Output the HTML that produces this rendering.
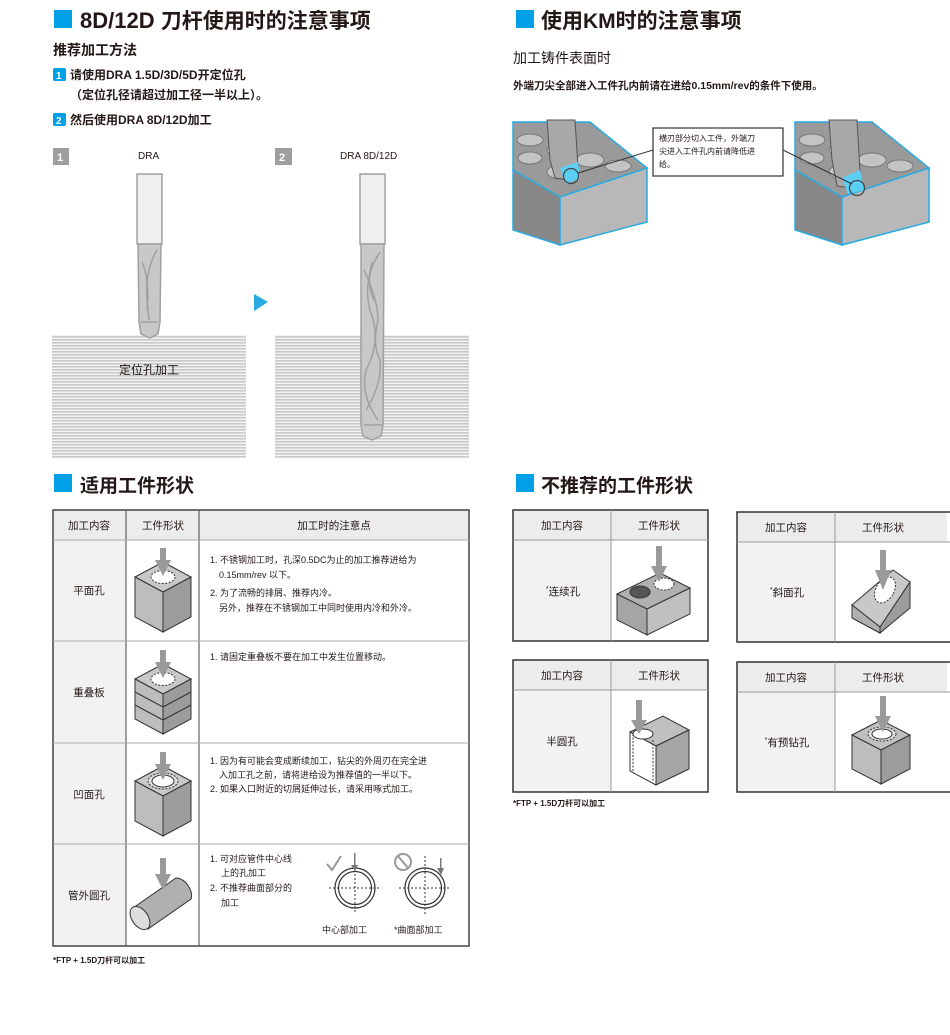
<!DOCTYPE html>
<html><head><meta charset="utf-8"><style>
html,body{margin:0;padding:0;background:#fff}
svg{display:block}
text{font-family:"Liberation Sans","Noto Sans CJK SC",sans-serif;fill:#231815}
.b{font-weight:bold}
</style></head><body>
<svg width="950" height="1035" viewBox="0 0 950 1035" xmlns="http://www.w3.org/2000/svg">
<defs>
<pattern id="hp" width="4" height="3" patternUnits="userSpaceOnUse"><rect width="4" height="3" fill="#f2f2f2"/><rect width="4" height="1.6" fill="#c9c9c9"/></pattern>
</defs>

<!-- Title 1 -->
<rect x="54" y="10" width="18" height="18" fill="#00a0e9"/>
<text x="80" y="28" font-size="22" class="b">8D/12D <tspan font-size="21">刀杆使用时的注意事项</tspan></text>
<text x="53" y="55" font-size="14" class="b">推荐加工方法</text>
<rect x="53" y="68" width="13" height="13" rx="2" fill="#00a0e9"/><text x="56" y="79" font-size="10" style="fill:#fff" class="b">1</text>
<text x="70" y="79" font-size="12" class="b">请使用DRA 1.5D/3D/5D开定位孔</text>
<text x="70" y="99" font-size="12" class="b">（定位孔径请超过加工径一半以上）。</text>
<rect x="53" y="113" width="13" height="13" rx="2" fill="#00a0e9"/><text x="56" y="124" font-size="10" style="fill:#fff" class="b">2</text>
<text x="70" y="124" font-size="12" class="b">然后使用DRA 8D/12D加工</text>

<rect x="53" y="148" width="16" height="17" fill="#9e9e9e"/><text x="57" y="161" font-size="11" style="fill:#fff" class="b">1</text>
<text x="138" y="159" font-size="10">DRA</text>
<rect x="275" y="148" width="17" height="17" fill="#9e9e9e"/><text x="279" y="161" font-size="11" style="fill:#fff" class="b">2</text>
<text x="340" y="159" font-size="10">DRA 8D/12D</text>

<rect x="52" y="335" width="194" height="123" fill="url(#hp)"/>
<rect x="275" y="335" width="194" height="123" fill="url(#hp)"/>
<text x="149" y="374" font-size="12" text-anchor="middle">定位孔加工</text>
<polygon points="254,294 268,302 254,311" fill="#29abe2"/>

<!-- drill 1 -->
<g stroke="#a0a0a0" stroke-width="1.5">
<rect x="137" y="174" width="25" height="70" fill="#efefef"/>
<path d="M138,244 L161,244 L160,322 L158,334 L150,338 L141,334 L139,322 Z" fill="#c8c8c8"/>
<path d="M157,250 Q145,270 147,300 L149,320" fill="none"/>
<path d="M142,262 Q150,280 147,310" fill="none"/>
<path d="M141,322 L158,322" fill="none"/>
</g>
<!-- drill 2 -->
<g stroke="#a0a0a0" stroke-width="1.5">
<rect x="360" y="174" width="25" height="70" fill="#efefef"/>
<path d="M361,244 L384,244 L383,425 L381,436 L372,440 L363,436 L361,425 Z" fill="#c8c8c8"/>
<path d="M380,252 Q362,280 370,310 Q382,340 366,370 Q360,395 378,420" fill="none"/>
<path d="M364,270 Q378,300 378,320 Q372,345 380,360 Q382,385 366,410" fill="none"/>
<path d="M372,262 Q366,285 374,300" fill="none"/>
<path d="M364,425 L382,425" fill="none"/>
</g>

<!-- Title 2 -->
<rect x="516" y="10" width="18" height="18" fill="#00a0e9"/>
<text x="541" y="28" font-size="21" class="b">使用KM时的注意事项</text>
<text x="513" y="63" font-size="14">加工铸件表面时</text>
<text x="513" y="89" font-size="10.5" class="b">外端刀尖全部进入工件孔内前请在进给0.15mm/rev的条件下使用。</text>

<!-- KM blocks -->
<g id="blk1">
<polygon points="513,137 513,122 590,122 647,168 560,197 513,170" fill="#9a9a9a" stroke="#29abe2" stroke-width="1.5"/>
<g fill="#c4c4c4" stroke="#777" stroke-width="1">
<ellipse cx="530" cy="140" rx="13" ry="6"/><ellipse cx="560" cy="150" rx="13" ry="6"/><ellipse cx="530" cy="158" rx="12" ry="6"/>
<ellipse cx="590" cy="160" rx="14" ry="7"/><ellipse cx="618" cy="166" rx="13" ry="6"/><ellipse cx="560" cy="172" rx="13" ry="7"/>
</g>
<polygon points="513,170 560,197 560,245 513,230" fill="#888" stroke="#29abe2" stroke-width="1.5"/>
<polygon points="560,197 647,168 647,222 560,245" fill="#b8b8b8" stroke="#29abe2" stroke-width="1.5"/>
<polygon points="547,120 575,120 578,168 568,180 555,178 550,160" fill="#a8a8a8" stroke="#555" stroke-width="1"/>
<polygon points="560,168 578,162 580,178 566,184" fill="#5ccff5"/>
<circle cx="571" cy="176" r="7.5" fill="none" stroke="#444" stroke-width="1.2"/>
</g>
<line x1="578" y1="173" x2="653" y2="150" stroke="#333" stroke-width="1"/>
<rect x="653" y="128" width="130" height="48" fill="#fff" stroke="#333" stroke-width="1.2"/>
<text x="659" y="141" font-size="8">横刃部分切入工件，外端刀</text>
<text x="659" y="154" font-size="8">尖进入工件孔内前请降低进</text>
<text x="659" y="167" font-size="8">给。</text>
<g transform="translate(282,0)">
<polygon points="513,137 513,122 590,122 647,168 560,197 513,170" fill="#9a9a9a" stroke="#29abe2" stroke-width="1.5"/>
<g fill="#c4c4c4" stroke="#777" stroke-width="1">
<ellipse cx="530" cy="140" rx="13" ry="6"/><ellipse cx="560" cy="150" rx="13" ry="6"/><ellipse cx="530" cy="158" rx="12" ry="6"/>
<ellipse cx="590" cy="160" rx="14" ry="7"/><ellipse cx="618" cy="166" rx="13" ry="6"/><ellipse cx="560" cy="172" rx="13" ry="7"/>
</g>
<polygon points="513,170 560,197 560,245 513,230" fill="#888" stroke="#29abe2" stroke-width="1.5"/>
<polygon points="560,197 647,168 647,222 560,245" fill="#b8b8b8" stroke="#29abe2" stroke-width="1.5"/>
<polygon points="547,120 575,120 578,172 568,188 555,186 550,160" fill="#a8a8a8" stroke="#555" stroke-width="1"/>
<polygon points="560,178 578,170 582,190 566,194" fill="#5ccff5"/>
<circle cx="575" cy="188" r="7.5" fill="none" stroke="#444" stroke-width="1.2"/>
</g>
<line x1="783" y1="150" x2="852" y2="184" stroke="#333" stroke-width="1"/>

<!-- Section titles 2 -->
<rect x="54" y="474" width="18" height="18" fill="#00a0e9"/>
<text x="80" y="492" font-size="19" class="b">适用工件形状</text>
<rect x="516" y="474" width="18" height="18" fill="#00a0e9"/>
<text x="541" y="492" font-size="19" class="b">不推荐的工件形状</text>

<!-- Table 1 -->
<rect x="53" y="510" width="416" height="30" fill="#ececec"/>
<rect x="53" y="540" width="73" height="406" fill="#f2f2f2"/>
<g stroke="#444" stroke-width="1" fill="none">
<rect x="53" y="510" width="416" height="436" stroke-width="1.5"/>
<line x1="126" y1="510" x2="126" y2="946"/><line x1="199" y1="510" x2="199" y2="946"/>
</g>
<g stroke="#aaa" stroke-width="1">
<line x1="53" y1="540" x2="469" y2="540"/><line x1="53" y1="641" x2="469" y2="641"/>
<line x1="53" y1="743" x2="469" y2="743"/><line x1="53" y1="844" x2="469" y2="844"/>
</g>
<g font-size="10.5" text-anchor="middle">
<text x="89" y="529">加工内容</text><text x="163" y="529">工件形状</text><text x="334" y="529">加工时的注意点</text>
<text x="89" y="594">平面孔</text><text x="89" y="696">重叠板</text><text x="89" y="798">凹面孔</text><text x="89" y="899">管外圆孔</text>
</g>
<g font-size="9">
<text x="210" y="563">1. 不锈钢加工时，孔深0.5DC为止的加工推荐进给为</text>
<text x="219" y="578">0.15mm/rev 以下。</text>
<text x="210" y="596">2. 为了流畅的排屑、推荐内冷。</text>
<text x="219" y="611">另外，推荐在不锈钢加工中同时使用内冷和外冷。</text>
<text x="210" y="660">1. 请固定重叠板不要在加工中发生位置移动。</text>
<text x="210" y="764">1. 因为有可能会变成断续加工，钻尖的外周刃在完全进</text>
<text x="219" y="778">入加工孔之前，请将进给设为推荐值的一半以下。</text>
<text x="210" y="792">2. 如果入口附近的切屑延伸过长，请采用啄式加工。</text>
<text x="210" y="862">1. 可对应管件中心线</text>
<text x="221" y="876">上的孔加工</text>
<text x="210" y="891">2. 不推荐曲面部分的</text>
<text x="221" y="906">加工</text>
<text x="322" y="933">中心部加工</text>
<text x="394" y="933">*曲面部加工</text>
</g>

<!-- cube row1 -->
<g stroke="#333" stroke-width="1">
<polygon points="163,562 191,577 163,592 135,577" fill="#c8c8c8"/>
<polygon points="135,577 163,592 163,632 135,617" fill="#bdbdbd"/>
<polygon points="191,577 163,592 163,632 191,617" fill="#9c9c9c"/>
<ellipse cx="163" cy="577" rx="12" ry="6.5" fill="#fff" stroke-dasharray="2,1.5"/>
</g>
<g fill="#9a9a9a"><rect x="160" y="548" width="6" height="14"/><polygon points="155,560 171,560 163,576"/></g>
<!-- cube row2 layered -->
<g stroke="#333" stroke-width="1">
<polygon points="163,664 191,679 163,694 135,679" fill="#c8c8c8"/>
<polygon points="135,679 163,694 163,734 135,719" fill="#bdbdbd"/>
<polygon points="191,679 163,694 163,734 191,719" fill="#9c9c9c"/>
<polyline points="135,692 163,707 191,692" fill="none"/><polyline points="135,705 163,720 191,705" fill="none"/>
<ellipse cx="163" cy="679" rx="12" ry="6.5" fill="#fff" stroke-dasharray="2,1.5"/>
</g>
<g fill="#9a9a9a"><rect x="160" y="650" width="6" height="14"/><polygon points="155,662 171,662 163,678"/></g>
<!-- cube row3 concave -->
<g stroke="#333" stroke-width="1">
<polygon points="163,766 191,781 163,796 135,781" fill="#c8c8c8"/>
<polygon points="135,781 163,796 163,836 135,821" fill="#bdbdbd"/>
<polygon points="191,781 163,796 163,836 191,821" fill="#9c9c9c"/>
<ellipse cx="163" cy="781" rx="15" ry="8" fill="#ddd" stroke-dasharray="2,1.5"/>
<ellipse cx="163" cy="781" rx="11" ry="6" fill="#fff"/>
</g>
<g fill="#9a9a9a"><rect x="160" y="752" width="6" height="14"/><polygon points="155,764 171,764 163,780"/></g>
<!-- pipe -->
<g stroke="#333" stroke-width="1">
<path d="M133,908 L176,878 A9,14 -35 0 1 191,899 L148,929 Z" fill="#b0b0b0"/>
<ellipse cx="140" cy="918" rx="8" ry="13" transform="rotate(-35 140 918)" fill="#ddd"/>
</g>
<g fill="#9a9a9a"><rect x="160" y="858" width="6" height="18"/><polygon points="155,874 171,874 163,890"/></g>
<!-- circles -->
<g stroke="#333" fill="none">
<circle cx="355" cy="888" r="20" stroke-width="1.2"/><circle cx="355" cy="888" r="16.5" stroke-width="1.2"/>
<line x1="329" y1="888" x2="381" y2="888" stroke-dasharray="2,2"/><line x1="355" y1="862" x2="355" y2="914" stroke-dasharray="2,2"/>
<circle cx="425" cy="888" r="20" stroke-width="1.2"/><circle cx="425" cy="888" r="16.5" stroke-width="1.2"/>
<line x1="399" y1="888" x2="451" y2="888" stroke-dasharray="2,2"/><line x1="425" y1="856" x2="425" y2="914" stroke-dasharray="2,2"/>
<path d="M327,864 L332,870 L341,856" stroke="#999" stroke-width="2"/>
<circle cx="403" cy="862" r="8" stroke="#999" stroke-width="2"/><line x1="398" y1="856" x2="408" y2="868" stroke="#999" stroke-width="2"/>
</g>
<g fill="#777"><rect x="354" y="853" width="1.5" height="14"/><polygon points="351,865 358,865 355,871"/>
<rect x="440" y="858" width="1.5" height="12"/><polygon points="437,868 444,868 441,875"/></g>
<text x="53" y="963" font-size="8" class="b">*FTP + 1.5D刀杆可以加工</text>

<!-- Right tables -->
<g>
<rect x="513" y="510" width="195" height="30" fill="#ececec"/><rect x="513" y="540" width="98" height="101" fill="#f2f2f2"/>
<rect x="737" y="512" width="210" height="30" fill="#ececec"/><rect x="737" y="542" width="98" height="100" fill="#f2f2f2"/>
<rect x="513" y="660" width="195" height="30" fill="#ececec"/><rect x="513" y="690" width="98" height="102" fill="#f2f2f2"/>
<rect x="737" y="662" width="210" height="30" fill="#ececec"/><rect x="737" y="692" width="98" height="100" fill="#f2f2f2"/>
</g>
<g stroke="#333" stroke-width="1.5" fill="none">
<rect x="513" y="510" width="195" height="131"/><rect x="737" y="512" width="215" height="130"/>
<rect x="513" y="660" width="195" height="132"/><rect x="737" y="662" width="215" height="130"/>
</g>
<g stroke="#999" stroke-width="1">
<line x1="611" y1="510" x2="611" y2="641"/><line x1="513" y1="540" x2="708" y2="540"/>
<line x1="835" y1="512" x2="835" y2="642"/><line x1="737" y1="542" x2="950" y2="542"/>
<line x1="611" y1="660" x2="611" y2="792"/><line x1="513" y1="690" x2="708" y2="690"/>
<line x1="835" y1="662" x2="835" y2="792"/><line x1="737" y1="692" x2="950" y2="692"/>
</g>
<g font-size="10.5" text-anchor="middle">
<text x="562" y="529">加工内容</text><text x="659" y="529">工件形状</text>
<text x="786" y="531">加工内容</text><text x="883" y="531">工件形状</text>
<text x="562" y="679">加工内容</text><text x="659" y="679">工件形状</text>
<text x="786" y="681">加工内容</text><text x="883" y="681">工件形状</text>
<text x="563" y="595"><tspan font-size="7" dy="-4">*</tspan><tspan dy="4">连续孔</tspan></text>
<text x="787" y="596"><tspan font-size="7" dy="-4">*</tspan><tspan dy="4">斜面孔</tspan></text>
<text x="562" y="745">半圆孔</text>
<text x="787" y="746"><tspan font-size="7" dy="-4">*</tspan><tspan dy="4">有预钻孔</tspan></text>
</g>
<!-- continuous hole block -->
<g stroke="#333" stroke-width="1">
<polygon points="617,594 660,573 690,588 647,609" fill="#b0b0b0"/>
<polygon points="617,594 647,609 647,635 617,620" fill="#a5a5a5"/>
<polygon points="690,588 647,609 647,635 690,614" fill="#c0c0c0"/>
<ellipse cx="640" cy="592" rx="10" ry="6" fill="#555"/>
<ellipse cx="664" cy="584" rx="10" ry="6" fill="#fff" stroke-dasharray="2,1.5"/>
</g>
<g fill="#9a9a9a"><rect x="656" y="546" width="6" height="22"/><polygon points="651,566 667,566 659,582"/></g>
<!-- inclined -->
<g stroke="#333" stroke-width="1">
<polygon points="852,605 893,570 910,582 880,627" fill="#c8c8c8"/>
<polygon points="852,605 880,627 880,633 852,618" fill="#b0b0b0"/>
<polygon points="852,605 852,618 880,633 880,627" fill="#b0b0b0"/>
<polygon points="910,582 880,627 880,633 910,608" fill="#9c9c9c"/>
<ellipse cx="885" cy="590" rx="9" ry="14" transform="rotate(30 885 590)" fill="#fff" stroke-dasharray="2,1.5"/>
</g>
<g fill="#9a9a9a"><rect x="880" y="550" width="6" height="22"/><polygon points="875,570 891,570 883,590"/></g>
<!-- half circle -->
<g stroke="#333" stroke-width="1">
<polygon points="630,732 663,716 689,730 656,746" fill="#c0c0c0"/>
<polygon points="630,732 656,746 656,785 630,771" fill="#fff"/>
<polygon points="689,730 656,746 656,785 689,769" fill="#a5a5a5"/>
<ellipse cx="643" cy="734" rx="10" ry="5" fill="#fff"/>
<line x1="633" y1="734" x2="633" y2="772" stroke-dasharray="2,1.5"/><line x1="653" y1="740" x2="653" y2="782" stroke-dasharray="2,1.5"/>
</g>
<g fill="#9a9a9a"><rect x="636" y="700" width="6" height="22"/><polygon points="631,720 647,720 639,734"/></g>
<!-- predrilled -->
<g stroke="#333" stroke-width="1">
<polygon points="852,735 881,720 910,735 881,750" fill="#c0c0c0"/>
<polygon points="852,735 881,750 881,784 852,769" fill="#bdbdbd"/>
<polygon points="910,735 881,750 881,784 910,769" fill="#9c9c9c"/>
<ellipse cx="882" cy="734" rx="14" ry="7" fill="#ddd" stroke-dasharray="2,1.5"/>
<ellipse cx="882" cy="734" rx="10" ry="5" fill="#fff"/>
</g>
<g fill="#9a9a9a"><rect x="880" y="696" width="6" height="24"/><polygon points="875,716 891,716 883,732"/></g>
<text x="513" y="806" font-size="8" class="b">*FTP + 1.5D刀杆可以加工</text>
</svg>
</body></html>
